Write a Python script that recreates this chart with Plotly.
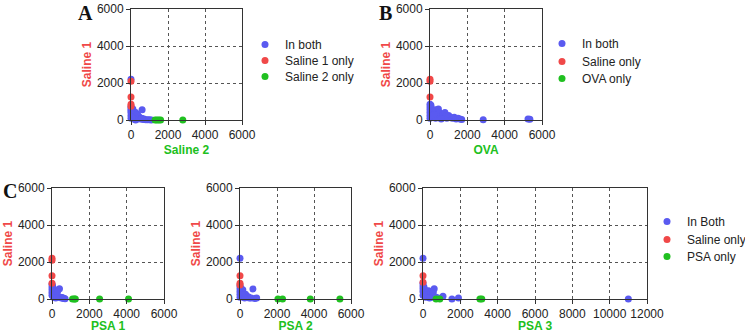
import plotly.graph_objects as go

BLUE = "#5a5af0"
RED = "#f04848"
GREEN = "#20c020"

# ---------- Panel A : Saline 1 vs Saline 2 ----------
a_both_x = [0, 0, 0, 0, 0, 0, 0, 30, 60, 80, 100, 120, 150, 180, 200, 220, 250, 280, 300, 330, 350, 400, 420, 450, 500, 550, 600, 650, 700, 800, 900, 1000, 1100, 600, 150, 250, 50]
a_both_y = [2200, 700, 600, 500, 400, 250, 100, 650, 500, 300, 600, 200, 450, 350, 100, 300, 400, 150, 250, 50, 300, 200, 100, 150, 50, 100, 550, 30, 60, 20, 10, 20, 0, 80, 50, 0, 150]
a_s1_x = [0, 0, 0, 0]
a_s1_y = [2100, 1250, 850, 750]
a_s2_x = [1300, 1400, 1500, 1600, 2800]
a_s2_y = [0, 0, 0, 0, 0]

# ---------- Panel B : Saline 1 vs OVA ----------
b_both_x = [0, 0, 0, 0, 0, 0, 50, 100, 150, 200, 250, 300, 350, 400, 450, 500, 550, 600, 700, 800, 850, 900, 1000, 1100, 1200, 1300, 1400, 1500, 1600, 1700, 2850, 5250, 5350, 100, 300, 600, 200]
b_both_y = [850, 700, 550, 400, 250, 100, 800, 600, 500, 450, 350, 550, 300, 200, 600, 400, 250, 150, 300, 400, 200, 100, 250, 150, 100, 150, 50, 100, 50, 30, 20, 60, 40, 200, 100, 50, 300]
b_s_x = [0, 0, 0]
b_s_y = [2200, 2100, 1250]
b_o_x = [1250]
b_o_y = [-60]

# ---------- Panel C1 : Saline 1 vs PSA 1 ----------
c1_both_x = [0, 0, 0, 0, 0, 30, 60, 100, 120, 150, 200, 250, 300, 350, 400, 450, 500, 550, 600, 650, 700, 80, 200, 300]
c1_both_y = [800, 650, 500, 350, 200, 700, 550, 400, 250, 500, 300, 200, 150, 100, 550, 100, 50, 80, 40, 30, 20, 100, 50, 400]
c1_s_x = [0, 0, 0, 0]
c1_s_y = [2200, 2100, 1250, 850]
c1_p_x = [1100, 1200, 1250, 2550, 4100]
c1_p_y = [0, 0, 0, 0, 0]

# ---------- Panel C2 : Saline 1 vs PSA 2 ----------
c2_both_x = [0, 0, 0, 0, 0, 0, 40, 80, 120, 150, 200, 250, 300, 350, 400, 450, 500, 600, 700, 800, 900, 100, 250]
c2_both_y = [2200, 700, 550, 400, 250, 100, 600, 450, 350, 500, 300, 200, 250, 150, 100, 120, 60, 50, 540, 30, 50, 200, 50]
c2_s_x = [0, 0, 0]
c2_s_y = [1250, 850, 750]
c2_p_x = [2050, 2300, 3800, 5400]
c2_p_y = [0, 0, 0, 0]

# ---------- Panel C3 : Saline 1 vs PSA 3 ----------
c3_both_x = [0, 0, 0, 0, 0, 0, 50, 100, 150, 200, 250, 300, 350, 400, 450, 500, 550, 600, 700, 800, 1070, 1550, 1900, 11000, 150, 350]
c3_both_y = [2200, 850, 700, 550, 400, 200, 650, 500, 400, 350, 300, 450, 250, 200, 150, 100, 350, 550, 100, 50, 150, 0, 50, 0, 100, 50]
c3_s_x = [0, 0]
c3_s_y = [1250, 900]
c3_p_x = [700, 900, 3050, 3150]
c3_p_y = [0, 0, 0, 0]

y_ticks = [0, 2000, 4000, 6000]
x_ticks_6k = [0, 2000, 4000, 6000]
x_ticks_12k = [0, 2000, 4000, 6000, 8000, 10000, 12000]

W, H = 745, 333

def dx(a, b):
    return [a / W, b / W]

def dy(top, bottom):
    return [1 - bottom / H, 1 - top / H]

panels = [
    ("", dx(131, 242), dy(9, 120), 6000, x_ticks_6k, "Saline 2",
     [("In both", BLUE, a_both_x, a_both_y), ("Saline 1 only", RED, a_s1_x, a_s1_y), ("Saline 2 only", GREEN, a_s2_x, a_s2_y)],
     [(245, 30), (245, 46), (245, 62)]),
    ("2", dx(430, 542), dy(9, 120), 6000, x_ticks_6k, "OVA",
     [("In both", BLUE, b_both_x, b_both_y), ("Saline only", RED, b_s_x, b_s_y), ("OVA only", GREEN, b_o_x, b_o_y)],
     [(542, 29), (542, 47), (542, 64)]),
    ("3", dx(52, 164), dy(188, 299), 6000, x_ticks_6k, "PSA 1",
     [("In Both", BLUE, c1_both_x, c1_both_y), ("Saline only", RED, c1_s_x, c1_s_y), ("PSA only", GREEN, c1_p_x, c1_p_y)],
     None),
    ("4", dx(240, 351), dy(188, 299), 6000, x_ticks_6k, "PSA 2",
     [("In Both", BLUE, c2_both_x, c2_both_y), ("Saline only", RED, c2_s_x, c2_s_y), ("PSA only", GREEN, c2_p_x, c2_p_y)],
     None),
    ("5", dx(423, 647), dy(188, 299), 12000, x_ticks_12k, "PSA 3",
     [("In Both", BLUE, c3_both_x, c3_both_y), ("Saline only", RED, c3_s_x, c3_s_y), ("PSA only", GREEN, c3_p_x, c3_p_y)],
     [(647, 207), (647, 225), (647, 242)]),
]

fig = go.Figure()
FONT = "Liberation Sans, Arial, sans-serif"
layout = dict(
    width=W, height=H, margin=dict(l=0, r=0, t=0, b=0, autoexpand=False),
    paper_bgcolor="white", plot_bgcolor="white",
    font=dict(family=FONT, size=12, color="#222"),
)

leg_common = dict(font=dict(size=12, color="#222", family=FONT), bgcolor="rgba(0,0,0,0)",
                  xanchor="left", yanchor="top", itemsizing="trace", tracegroupgap=0,
                  itemwidth=30)
leg_count = 0

for suf, xd, yd, xmax, xt, xtitle, traces, legpos in panels:
    xa = "x" + suf
    ya = "y" + suf
    for i, (name, col, xs, ys) in enumerate(traces):
        if legpos is not None:
            leg_count += 1
            lname = "legend" if leg_count == 1 else "legend%d" % leg_count
            px, py = legpos[i]
            layout[lname] = dict(x=px / W, y=1 - py / H, **leg_common)
            show = True
        else:
            lname = "legend"
            show = False
        fig.add_trace(go.Scatter(
            x=xs, y=ys, mode="markers", name=name,
            marker=dict(color=col, size=7),
            xaxis=xa, yaxis=ya, cliponaxis=False,
            showlegend=show, legend=lname,
        ))
    common = dict(
        showline=True, linecolor="#333", linewidth=1, mirror=True,
        showgrid=True, gridcolor="#555", griddash="dot", gridwidth=1,
        ticks="outside", ticklen=4, tickcolor="#333", automargin=False,
        zeroline=False, tickformat="d", tickfont=dict(size=12, color="#222", family=FONT),
    )
    layout["xaxis" + suf] = dict(
        domain=xd, range=[0, xmax], tickvals=xt, anchor=ya,
        title=dict(text="<b>" + xtitle + "</b>", font=dict(color=GREEN, size=12), standoff=4),
        **common,
    )
    layout["yaxis" + suf] = dict(
        domain=yd, range=[0, 6000], tickvals=y_ticks, anchor=xa,
        title=dict(text="<b>Saline 1</b>", font=dict(color=RED, size=12), standoff=2),
        **common,
    )

serif = dict(family="Liberation Serif, Times New Roman, serif", size=20, color="#111")
layout["annotations"] = [
    dict(text="<b>A</b>", x=76 / W, y=1.0, xref="paper", yref="paper", xanchor="left", yanchor="top", showarrow=False, font=serif),
    dict(text="<b>B</b>", x=377 / W, y=1.0, xref="paper", yref="paper", xanchor="left", yanchor="top", showarrow=False, font=serif),
    dict(text="<b>C</b>", x=1 / W, y=1 - 178 / H, xref="paper", yref="paper", xanchor="left", yanchor="top", showarrow=False, font=serif),
]

fig.update_layout(**layout)
fig.write_html("out.html", config={"displayModeBar": False},
               post_script="document.body.style.margin='0';document.body.style.overflow='hidden';")
